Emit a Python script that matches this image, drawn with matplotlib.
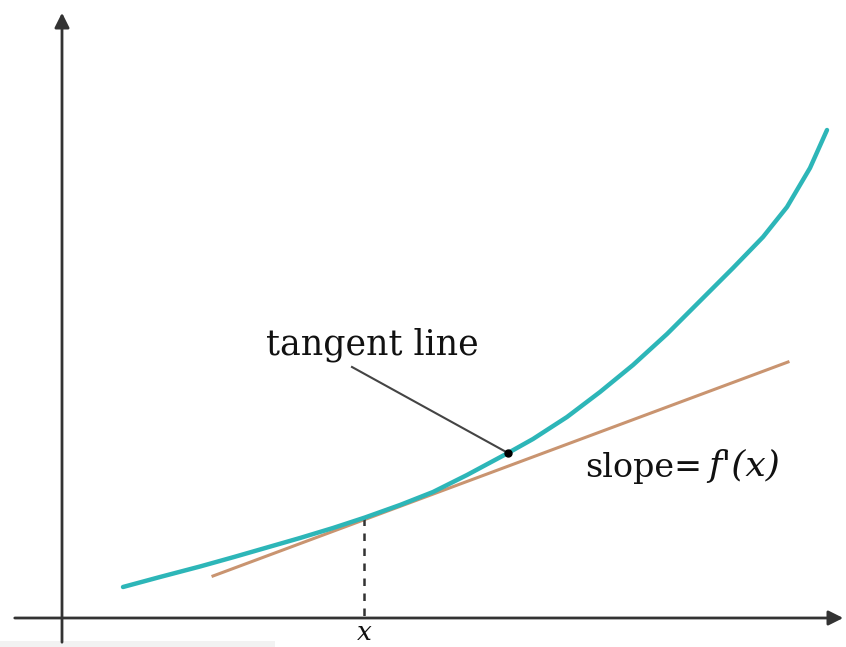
import numpy as np
import matplotlib.pyplot as plt

# points on the curve (pixel coordinates, y down)
curve_x = [123, 160, 200, 234, 267, 300, 333, 365, 400, 433, 467, 508, 533, 567, 600, 633, 667, 700, 733, 763, 787, 810, 827]
curve_y = [587, 577, 566.5, 557, 547.5, 538, 528, 517.5, 505, 492, 475, 453, 439, 417, 392, 365, 334, 301, 268, 237, 207, 168, 130]

# tangent line end points
tangent_x = [213, 788]
tangent_y = [576, 362]

# point of tangency and marked point
touch_x, touch_y = 364, 518
mark_x, mark_y = 508, 453

axis_y = 618   # x-axis height
axis_x = 62    # y-axis position

fig = plt.figure(figsize=(8.46, 6.47), dpi=100)
ax = fig.add_axes([0, 0, 1, 1])
ax.set_xlim(0, 846)
ax.set_ylim(647, 0)
ax.axis('off')

# faint gray strip at bottom left
ax.fill_between([0, 275], 641, 647, color='#f2f2f2', lw=0)

# axes with arrows
ax.annotate('', xy=(846, axis_y), xytext=(12, axis_y),
            arrowprops=dict(arrowstyle='-|>', color='#333333', lw=2, mutation_scale=22))
ax.annotate('', xy=(axis_x, 10), xytext=(axis_x, 645),
            arrowprops=dict(arrowstyle='-|>', color='#333333', lw=2, mutation_scale=22))

# curve and tangent
ax.plot(curve_x, curve_y, color='#2db6b8', lw=3.2, solid_capstyle='round',
        solid_joinstyle='round', zorder=3)
ax.plot(tangent_x, tangent_y, color='#c99470', lw=2.2, zorder=2)

# dashed drop line
ax.plot([touch_x, touch_x], [touch_y, axis_y], color='#333333', lw=1.8, ls=(0, (3, 3)))

# annotation pointer
ax.plot([352, mark_x], [367, mark_y], color='#444444', lw=1.5, zorder=4)
ax.plot(mark_x, mark_y, 'o', color='black', ms=5, zorder=5)

ax.text(372, 345, 'tangent line', family='DejaVu Serif', fontsize=25,
        ha='center', va='center', color='#111111')
ax.text(702, 468, 'slope=', family='DejaVu Serif', fontsize=24,
        ha='right', va='center', color='#111111')
ax.text(708, 466, "f'(x)", family='DejaVu Serif', style='italic', fontsize=26,
        ha='left', va='center', color='#111111')
ax.text(touch_x, 640, 'x', family='DejaVu Serif', style='italic', fontsize=19,
        ha='center', va='baseline', color='#111111')

fig.savefig('out.png', dpi=100)
